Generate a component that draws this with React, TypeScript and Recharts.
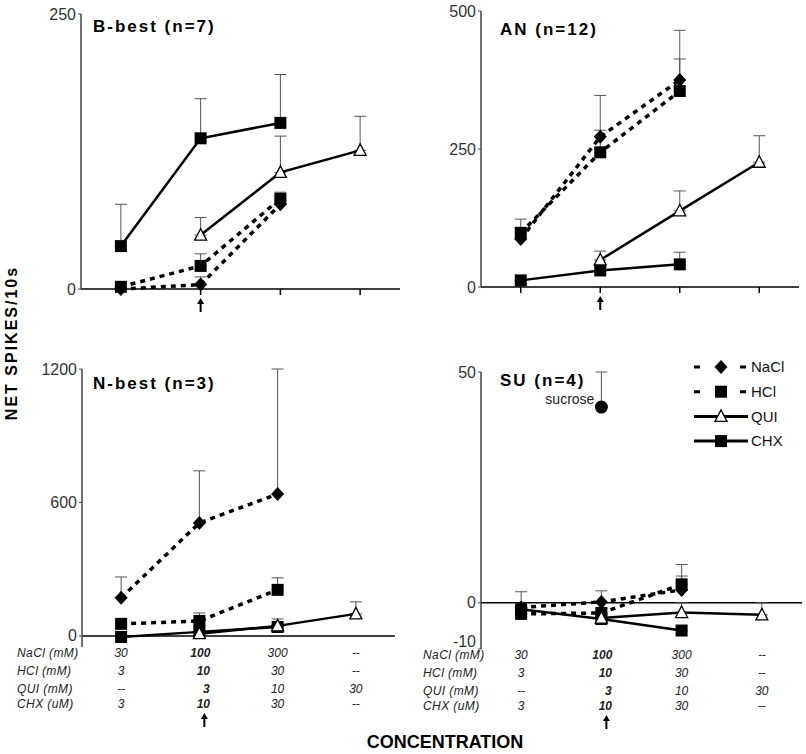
import React from 'react';
import { LineChart, Line, XAxis, YAxis, ErrorBar, ReferenceLine, Legend } from 'recharts';

// concentration steps (x categories) and the table printed under the lower panels
const STEPS = ['1', '2', '3', '4'];
const NACL_MM = ['30', '100', '300', '--'];
const HCL_MM = ['3', '10', '30', '--'];
const QUI_MM = ['--', '3', '10', '30'];
const CHX_UM = ['3', '10', '30', '--'];
const ROW_LABELS = ['NaCl (mM)', 'HCl (mM)', 'QUI (mM)', 'CHX (uM)'];

// B-best (n=7)
const BB_NACL = [0, 4, 77, null];
const BB_NACL_ERR = [0, 7, 4, 0];
const BB_HCL = [2, 21, 82, null];
const BB_HCL_ERR = [0, 11, 6, 0];
const BB_QUI = [null, 49, 106, 126];
const BB_QUI_ERR = [0, 16, 33, 31];
const BB_CHX = [39, 137, 151, null];
const BB_CHX_ERR = [38, 36, 44, 0];

// AN (n=12)
const AN_NACL = [87, 272, 375, null];
const AN_NACL_ERR = [36, 75, 90, 0];
const AN_HCL = [98, 244, 355, null];
const AN_HCL_ERR = [10, 40, 58, 0];
const AN_QUI = [null, 49, 138, 226];
const AN_QUI_ERR = [0, 16, 36, 48];
const AN_CHX = [12, 30, 41, null];
const AN_CHX_ERR = [0, 6, 22, 0];

// N-best (n=3)
const NB_NACL = [171, 508, 638, null];
const NB_NACL_ERR = [94, 234, 562, 0];
const NB_HCL = [54, 67, 207, null];
const NB_HCL_ERR = [8, 36, 54, 0];
const NB_QUI = [null, 10, 45, 99];
const NB_QUI_ERR = [0, 5, 31, 54];
const NB_CHX = [-5, 18, 40, null];
const NB_CHX_ERR = [0, 5, 10, 0];

// SU (n=4)
const SU_NACL = [-1, 0.2, 2.8, null];
const SU_NACL_ERR = [3.4, 2.4, 3, 0];
const SU_HCL = [-2.4, -2.2, 4, null];
const SU_HCL_ERR = [1, 1, 4.3, 0];
const SU_QUI = [null, -3.3, -2.1, -2.6];
const SU_QUI_ERR = [0, 0, 2.1, 2.6];
const SU_CHX = [-1.4, -3.5, -6, null];
const SU_CHX_ERR = [0, 0, 0, 0];
const SU_SUCROSE = [null, 42.4, null, null];
const SU_SUCROSE_ERR = [0, 7.6, 0, 0];

const LEGEND_ITEMS = [
  { name: 'NaCl', dashed: true, shape: 'diamond' },
  { name: 'HCl', dashed: true, shape: 'square' },
  { name: 'QUI', dashed: false, shape: 'triangle' },
  { name: 'CHX', dashed: false, shape: 'square' },
];

const FONT = '"Liberation Sans", Arial, sans-serif';
const YW = 50;
const MT = 10;
const MR = 4;

const up = (v: number | null, e: number) => (v == null ? null : [0, e]);

function buildRows(s: any) {
  return STEPS.map((step, i) => ({
    step,
    nacl: s.nacl[i], naclErr: up(s.nacl[i], s.naclErr[i]),
    hcl: s.hcl[i], hclErr: up(s.hcl[i], s.hclErr[i]),
    qui: s.qui[i], quiErr: up(s.qui[i], s.quiErr[i]),
    chx: s.chx[i], chxErr: up(s.chx[i], s.chxErr[i]),
    sucrose: s.sucrose ? s.sucrose[i] : null,
    sucroseErr: s.sucrose ? up(s.sucrose[i], s.sucroseErr[i]) : null,
  }));
}

function marker(shape: string, cx: number, cy: number, key?: any) {
  if (shape === 'diamond')
    return <path key={key} d={`M${cx} ${cy - 7}L${cx + 6.5} ${cy}L${cx} ${cy + 7}L${cx - 6.5} ${cy}Z`} fill="#000" />;
  if (shape === 'square')
    return <rect key={key} x={cx - 6} y={cy - 6} width={12} height={12} fill="#000" />;
  if (shape === 'triangle')
    return <path key={key} d={`M${cx} ${cy - 6.5}L${cx + 6} ${cy + 5}L${cx - 6} ${cy + 5}Z`} fill="#fff" stroke="#000" strokeWidth={1.3} />;
  return <circle key={key} cx={cx} cy={cy} r={6.5} fill="#000" />;
}

const dotOf = (shape: string) => (p: any) => {
  if (p.cx == null || p.cy == null || p.value == null) return <g key={p.index} />;
  return marker(shape, p.cx, p.cy, p.index);
};

const sucroseDot = (p: any) => {
  if (p.cx == null || p.cy == null || p.value == null) return <g key={p.index} />;
  return (
    <g key={p.index}>
      <circle cx={p.cx} cy={p.cy} r={6.5} fill="#000" />
      <text x={p.cx - 7} y={p.cy - 8} dy="0.35em" textAnchor="end" fontSize={14} fill="#222">sucrose</text>
    </g>
  );
};

const Arrow = ({ x, y }: { x: number; y: number }) => (
  <g>
    <line x1={x} x2={x} y1={y + 5} y2={y + 14} stroke="#000" strokeWidth={2} />
    <path d={`M${x} ${y}L${x + 3.5} ${y + 6}L${x - 3.5} ${y + 6}Z`} fill="#000" />
  </g>
);

const ArrowTick = (p: any) => {
  const i = STEPS.indexOf(p.payload.value);
  return <g>{i === 1 && <Arrow x={p.x} y={p.y + 3} />}</g>;
};

const ROW_DY = [6, 24, 42, 57];
const BOLD_DX = [1, 4, 7, 4];
const TableTick = (p: any) => {
  const i = STEPS.indexOf(p.payload.value);
  const rows = [NACL_MM, HCL_MM, QUI_MM, CHX_UM];
  return (
    <g>
      {rows.map((r, k) => (
        <text key={k} x={p.x + (i === 1 ? BOLD_DX[k] : 0)} y={p.y + ROW_DY[k]} dy="0.35em" textAnchor="middle"
          fontSize={12} fontStyle="italic" fontWeight={i === 1 ? 'bold' : 'normal'} fill="#222">{r[i]}</text>
      ))}
      {i === 1 && <Arrow x={p.x + 5} y={p.y + 66} />}
    </g>
  );
};

// y tick; a negative bottom tick sits a little higher, as in the figure
const YTick = (p: any) => (
  <text x={p.x} y={p.y + (p.payload.value < 0 ? -8 : 0)} dy="0.35em" textAnchor="end" fontSize={16} fill="#333">
    {p.payload.value}
  </text>
);

const renderLegend = () => (
  <svg width={110} height={100}>
    {LEGEND_ITEMS.map((it, i) => {
      const cy = 12 + i * 24.7;
      return (
        <g key={it.name}>
          <line x1={0} x2={54} y1={cy} y2={cy} stroke="#000" strokeWidth={3} strokeDasharray={it.dashed ? '6 40' : undefined} />
          {marker(it.shape, 27, cy)}
          <text x={57} y={cy} dy="0.35em" fontSize={15} fill="#111">{it.name}</text>
        </g>
      );
    })}
  </svg>
);

type Box = { l: number; r: number; t: number; b: number };

function Panel({ box, data, domain, ticks, table, zeroLine, su }: {
  box: Box; data: any[]; domain: [number, number]; ticks: number[]; table?: boolean; zeroLine?: boolean; su?: boolean;
}) {
  const xh = table ? 90 : 40;
  const width = box.r - box.l + YW + MR;
  const height = box.b - box.t + MT + xh;
  const pad = (box.r - box.l) / 8;
  return (
    <div style={{ position: 'absolute', left: box.l - YW, top: box.t - MT }}>
      <LineChart width={width} height={height} data={data} margin={{ top: MT, right: MR, bottom: 0, left: 0 }}>
        <XAxis dataKey="step" padding={{ left: pad, right: pad }} interval={0}
          axisLine={zeroLine ? false : { stroke: '#000', strokeWidth: 1.5 }}
          tickLine={zeroLine ? false : { stroke: '#000', strokeWidth: 1.5 }}
          tickSize={zeroLine ? 0 : 6} tickMargin={0} height={xh}
          tick={table ? TableTick : ArrowTick} />
        <YAxis type="number" domain={domain} ticks={ticks} interval={0} width={YW}
          axisLine={{ stroke: '#444', strokeWidth: 1.5 }} tickLine={{ stroke: '#444' }} tickSize={3}
          tick={YTick} />
        {zeroLine && <ReferenceLine y={0} stroke="#000" strokeWidth={1.5} />}
        <Line dataKey="nacl" type="linear" stroke="#000" strokeWidth={3.5} strokeDasharray="5 5"
          dot={dotOf('diamond')} activeDot={false} isAnimationActive={false}>
          <ErrorBar dataKey="naclErr" direction="y" width={6} stroke="#555" strokeWidth={1} />
        </Line>
        <Line dataKey="hcl" type="linear" stroke="#000" strokeWidth={3.5} strokeDasharray="5 5"
          dot={dotOf('square')} activeDot={false} isAnimationActive={false}>
          <ErrorBar dataKey="hclErr" direction="y" width={6} stroke="#555" strokeWidth={1} />
        </Line>
        <Line dataKey="chx" type="linear" stroke="#000" strokeWidth={2.5}
          dot={dotOf('square')} activeDot={false} isAnimationActive={false}>
          <ErrorBar dataKey="chxErr" direction="y" width={6} stroke="#555" strokeWidth={1} />
        </Line>
        <Line dataKey="qui" type="linear" stroke="#000" strokeWidth={2.5}
          dot={dotOf('triangle')} activeDot={false} isAnimationActive={false}>
          <ErrorBar dataKey="quiErr" direction="y" width={6} stroke="#555" strokeWidth={1} />
        </Line>
        {su && (
          <Line dataKey="sucrose" type="linear" stroke="none" dot={sucroseDot} activeDot={false} isAnimationActive={false}>
            <ErrorBar dataKey="sucroseErr" direction="y" width={6} stroke="#555" strokeWidth={1} />
          </Line>
        )}
        {su && (
          <Legend layout="vertical" align="center" verticalAlign="middle" content={renderLegend}
            wrapperStyle={{ left: 694 - (box.l - YW), top: -7, width: 110, height: 100 }} />
        )}
      </LineChart>
    </div>
  );
}

const titleStyle: React.CSSProperties = {
  position: 'absolute', fontWeight: 'bold', fontSize: 17, letterSpacing: 2, whiteSpace: 'nowrap', color: '#000',
  transform: 'translateY(-50%)',
};

const rowStyle: React.CSSProperties = {
  position: 'absolute', transform: 'translateY(-50%)', fontSize: 12, fontStyle: 'italic', color: '#222',
  whiteSpace: 'nowrap', letterSpacing: 0.4,
};

export default function App() {
  const bb = buildRows({ nacl: BB_NACL, naclErr: BB_NACL_ERR, hcl: BB_HCL, hclErr: BB_HCL_ERR, qui: BB_QUI, quiErr: BB_QUI_ERR, chx: BB_CHX, chxErr: BB_CHX_ERR });
  const an = buildRows({ nacl: AN_NACL, naclErr: AN_NACL_ERR, hcl: AN_HCL, hclErr: AN_HCL_ERR, qui: AN_QUI, quiErr: AN_QUI_ERR, chx: AN_CHX, chxErr: AN_CHX_ERR });
  const nb = buildRows({ nacl: NB_NACL, naclErr: NB_NACL_ERR, hcl: NB_HCL, hclErr: NB_HCL_ERR, qui: NB_QUI, quiErr: NB_QUI_ERR, chx: NB_CHX, chxErr: NB_CHX_ERR });
  const su = buildRows({ nacl: SU_NACL, naclErr: SU_NACL_ERR, hcl: SU_HCL, hclErr: SU_HCL_ERR, qui: SU_QUI, quiErr: SU_QUI_ERR, chx: SU_CHX, chxErr: SU_CHX_ERR, sucrose: SU_SUCROSE, sucroseErr: SU_SUCROSE_ERR });

  return (
    <div style={{ position: 'absolute', left: 0, top: 0, width: 806, height: 754, overflow: 'hidden', background: '#fff', fontFamily: FONT }}>
      <Panel box={{ l: 81, r: 400, t: 14, b: 289 }} data={bb} domain={[0, 250]} ticks={[0, 250]} />
      <Panel box={{ l: 481, r: 799, t: 11, b: 287 }} data={an} domain={[0, 500]} ticks={[0, 250, 500]} />
      <Panel box={{ l: 82, r: 395, t: 369, b: 647 }} data={nb} domain={[-50, 1200]} ticks={[0, 600, 1200]} table zeroLine />
      <Panel box={{ l: 481, r: 802, t: 372, b: 649 }} data={su} domain={[-10, 50]} ticks={[-10, 0, 50]} table zeroLine su />

      <div style={{ ...titleStyle, left: 93, top: 27 }}>B-best (n=7)</div>
      <div style={{ ...titleStyle, left: 500, top: 30 }}>AN (n=12)</div>
      <div style={{ ...titleStyle, left: 93, top: 384 }}>N-best (n=3)</div>
      <div style={{ ...titleStyle, left: 500, top: 381 }}>SU (n=4)</div>

      {ROW_LABELS.map((t, k) => (
        <div key={'a' + k} style={{ ...rowStyle, left: 17, top: 653 + [0, 18, 36, 51][k] }}>{t}</div>
      ))}
      {ROW_LABELS.map((t, k) => (
        <div key={'b' + k} style={{ ...rowStyle, left: 423, top: 655 + [0, 18, 36, 51][k] }}>{t}</div>
      ))}

      <div style={{ position: 'absolute', left: 12, top: 343, transform: 'translate(-50%, -50%) rotate(-90deg)', fontWeight: 'bold', fontSize: 16, letterSpacing: 2, whiteSpace: 'nowrap', color: '#000' }}>NET SPIKES/10s</div>
      <div style={{ position: 'absolute', left: 445, top: 742, transform: 'translate(-50%, -50%)', fontWeight: 'bold', fontSize: 18, whiteSpace: 'nowrap', color: '#000' }}>CONCENTRATION</div>
    </div>
  );
}
